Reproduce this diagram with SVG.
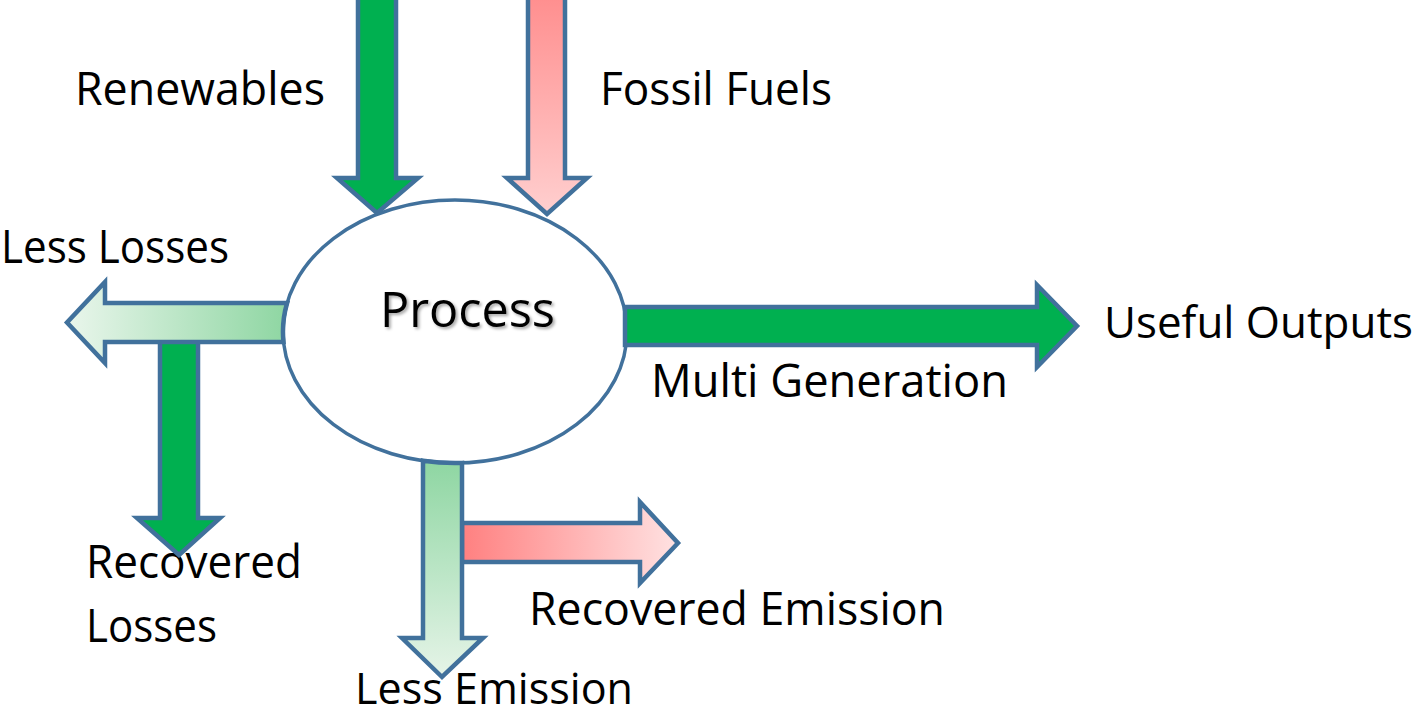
<svg xmlns="http://www.w3.org/2000/svg" width="1418" height="715" viewBox="0 0 1418 715">
<style>
.lbl{font-family:"Open Sans","Noto Sans","Liberation Sans",sans-serif;font-size:46px;fill:#000}
.arr{stroke:#41719C;stroke-width:4.5;stroke-linejoin:miter}
.green{fill:#00B050}
</style>
<defs>
<linearGradient id="gFossil" x1="0" y1="0" x2="0" y2="1">
<stop offset="0" stop-color="#FF8E8E"/><stop offset="1" stop-color="#FFCFCF"/>
</linearGradient>
<linearGradient id="gLessLoss" x1="0" y1="0" x2="1" y2="0">
<stop offset="0" stop-color="#EAF6EC"/><stop offset="1" stop-color="#8ED6A2"/>
</linearGradient>
<linearGradient id="gLessEm" x1="0" y1="0" x2="0" y2="1">
<stop offset="0" stop-color="#8ED6A2"/><stop offset="1" stop-color="#E6F4E8"/>
</linearGradient>
<linearGradient id="gRecEm" x1="0" y1="0" x2="1" y2="0">
<stop offset="0" stop-color="#FF8080"/><stop offset="1" stop-color="#FFE2E2"/>
</linearGradient>
<filter id="shadow" x="-10%" y="-20%" width="130%" height="150%">
<feDropShadow dx="2" dy="2" stdDeviation="1.5" flood-color="#000" flood-opacity="0.35"/>
</filter>
</defs>
<rect width="1418" height="715" fill="#fff"/>
<g id="process">
<ellipse cx="455" cy="331.5" rx="172" ry="131.5" fill="#fff" stroke="#41719C" stroke-width="3.5"/>
<text class="lbl" x="380" y="327" textLength="175" lengthAdjust="spacingAndGlyphs" filter="url(#shadow)" style="font-size:50px">Process</text>
</g>
<g id="renewables"><text class="lbl" x="75" y="105" textLength="250" lengthAdjust="spacingAndGlyphs">Renewables</text></g>
<g id="fossil-fuels"><text class="lbl" x="600" y="105" textLength="232" lengthAdjust="spacingAndGlyphs">Fossil Fuels</text></g>
<g id="less-losses"><text class="lbl" x="1" y="263" textLength="228" lengthAdjust="spacingAndGlyphs">Less Losses</text></g>
<g id="useful-outputs"><text class="lbl" x="1104" y="338" textLength="309" lengthAdjust="spacingAndGlyphs" style="font-size:43px">Useful Outputs</text></g>
<g id="multi-generation"><text class="lbl" x="651" y="397" textLength="357" lengthAdjust="spacingAndGlyphs">Multi Generation</text></g>
<g id="recovered-losses">
<text class="lbl" x="86" y="578" textLength="216" lengthAdjust="spacingAndGlyphs">Recovered</text>
<text class="lbl" x="86" y="642" textLength="131" lengthAdjust="spacingAndGlyphs">Losses</text>
</g>
<g id="recovered-emission"><text class="lbl" x="529" y="625" textLength="416" lengthAdjust="spacingAndGlyphs">Recovered Emission</text></g>
<g id="less-emission"><text class="lbl" x="355" y="704" textLength="278" lengthAdjust="spacingAndGlyphs" style="font-size:44px">Less Emission</text></g>
<g id="connectors">
<polygon class="arr green" points="358,-5 396,-5 396,178 418,178 377,213 337,178 358,178"/>
<polygon class="arr" fill="url(#gFossil)" points="528,-5 565,-5 565,178 587,178 547,214 507,178 528,178"/>
<polygon class="arr green" points="160,340 198,340 198,518 220,518 179,555 137,518 160,518"/>
<path class="arr" fill="url(#gLessLoss)" d="M287.1,303 L105,303 L105,282 L67,322.5 L105,363 L105,342 L283.5,342 A172 131.5 0 0 1 287.1,303 Z"/>
<polygon class="arr green" points="625,307 1037,307 1037,285 1077,326 1037,367 1037,345 625,345"/>
<polygon class="arr" fill="url(#gRecEm)" points="462,523 640,523 640,502 678,543 640,583 640,562 462,562"/>
<path class="arr" fill="url(#gLessEm)" d="M423,460.7 L423,638 L402,638 L442,677 L483,638 L462,638 L462,462.9 A172 131.5 0 0 1 423,460.7 Z"/>
</g>
</svg>
